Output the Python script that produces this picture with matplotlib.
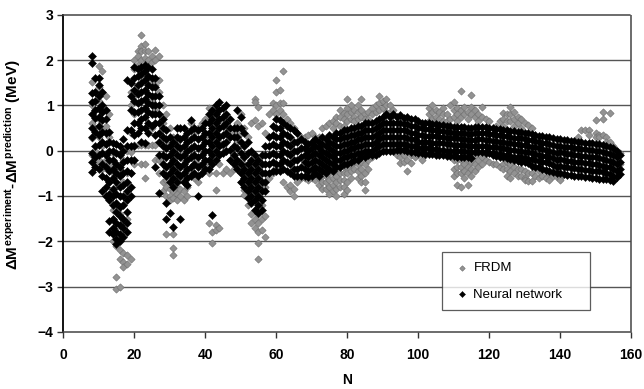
import matplotlib
matplotlib.use('Agg')
import matplotlib.pyplot as plt
import numpy as np

# residuals, grouped by neutron number N
frdm_by_n = {
    8: [1.52, 1.0, 0.6, 0.28, -0.1], 9: [1.3, 0.9, 0.5, 0.0, -0.3],
    10: [1.86, 1.4, 1.1, 0.7, 0.3, -0.2], 11: [1.75, 1.3, 0.85, 0.45, 0.1, -0.4],
    12: [1.2, 0.9, 0.55, 0.15, -0.2, -0.6], 13: [0.8, 0.3, -0.3, -0.7, -1.0],
    14: [-0.05, -0.5, -0.9, -1.3, -1.5, -2.0], 15: [-0.3, -0.8, -1.2, -1.7, -2.1, -2.78, -3.05],
    16: [-0.4, -1.0, -1.4, -1.9, -2.19, -2.4, -3.02], 17: [-0.2, -0.7, -1.2, -1.6, -2.25, -2.45, -2.56],
    18: [0.0, -0.5, -1.0, -1.5, -2.3, -2.5], 19: [1.52, 1.3, 1.0, 0.4, -0.02, -0.5, -2.4],
    20: [2.0, 1.8, 1.2, 0.8, 0.13, -0.3], 21: [2.2, 2.1, 1.9, 1.3, 0.13],
    22: [2.56, 2.3, 2.2, 2.0, 1.6, 0.13, -0.3], 23: [2.35, 2.2, 2.05, 1.7, 0.13, -0.3, -0.6],
    24: [2.2, 2.0, 1.6, 1.2, 0.13], 25: [2.1, 1.95, 1.5, 1.1, 0.5, 0.13],
    26: [2.23, 2.0, 1.45, 0.9, 0.13, -0.2], 27: [2.1, 1.57, 1.3, 0.8, -0.2, -0.5],
    28: [1.0, 0.6, -0.2, -0.7, -0.9], 29: [0.8, 0.2, -0.64, -0.8, -1.0, -1.85],
    30: [0.5, -0.7, -0.85, -1.0, -1.1], 31: [0.3, -0.75, -0.9, -1.05, -1.85, -2.14, -2.3],
    32: [0.2, -0.6, -0.8, -0.95, -1.1], 33: [0.0, -0.65, -0.85, -1.0],
    34: [-0.2, -0.7, -0.9, -1.08], 35: [0.2, -0.5, -0.8, -1.0],
    36: [0.6, 0.0, -0.5], 37: [0.4, -0.2, -0.6], 38: [0.5, -0.3, -0.7],
    39: [0.6, 0.0, -0.5], 40: [0.7, 0.3, -0.3], 41: [0.95, 0.68, 0.2, -0.5, -1.6],
    42: [0.8, 0.4, -0.2, -1.8, -2.03], 43: [0.9, 0.5, -0.5, -0.86, -1.65, -1.75],
    44: [0.7, 0.2, -0.3, -1.7], 45: [0.6, 0.1, -0.5], 46: [0.5, 0.0, -0.4],
    47: [0.3, -0.2, -0.5], 48: [0.4, -0.1, -0.4], 49: [0.6, 0.2, -0.3],
    50: [0.8, 0.4, -0.2, -0.5, -0.7], 51: [0.5, -0.3, -0.6, -0.86, -0.97],
    52: [0.3, -0.5, -0.8, -1.2], 53: [0.6, -0.7, -1.1, -1.4, -1.6],
    54: [1.13, 1.08, 0.68, -0.9, -1.3, -1.5, -1.7],
    55: [0.97, 0.55, -1.0, -1.4, -1.6, -1.8, -2.03, -2.4],
    56: [0.6, -1.2, -1.5, -1.75], 57: [0.4, -0.8, -1.45, -1.9], 58: [0.8, -0.6],
    59: [1.06, 0.9, -0.5], 60: [1.57, 1.3, 1.0, 0.8, -0.4], 61: [1.35, 1.06, 0.9, -0.3],
    62: [1.75, 1.06, 0.8, -0.7], 63: [0.7, -0.8], 64: [0.6, -0.75, -0.9],
    65: [0.5, -0.85, -1.0], 66: [0.4, -0.55, -0.7], 67: [0.3, -0.6], 68: [0.3, -0.6],
    69: [0.35, -0.65], 70: [0.4, -0.6], 71: [0.3, -0.5, -0.65], 72: [0.3, -0.45, -0.6, -0.75],
    73: [0.5, -0.4, -0.55, -0.7, -0.85], 74: [0.55, -0.4, -0.55, -0.7, -0.85],
    75: [0.6, -0.35, -0.5, -0.65, -0.8, -0.95], 76: [0.65, 0.5, -0.3, -0.45, -0.6, -0.75, -0.9],
    77: [0.75, 0.6, -0.4, -0.55, -0.7, -0.85, -1.0], 78: [0.9, 0.75, 0.55, -0.3, -0.5, -0.65, -0.8],
    79: [0.84, 0.7, 0.55, -0.35, -0.5, -0.65, -0.8, -0.95],
    80: [1.13, 0.95, 0.8, 0.65, -0.35, -0.5, -0.7, -0.86],
    81: [1.0, 0.85, 0.7, -0.3, -0.45, -0.6], 82: [0.9, 0.75, 0.65, -0.25, -0.4],
    83: [1.0, 0.85, 0.7, -0.3, -0.45, -0.6], 84: [1.13, 0.9, 0.75, -0.25, -0.4, -0.55, -0.7],
    85: [0.8, 0.7, -0.3, -0.5, -0.7, -0.86], 86: [0.85, 0.7, -0.2, -0.4],
    87: [0.95, 0.8, -0.15], 88: [1.0, 0.85], 89: [1.2, 1.05, 0.9], 90: [1.1, 0.95],
    91: [1.15, 1.0, 0.85], 92: [1.0, 0.85], 93: [0.9], 94: [0.2, 0.05, -0.1],
    95: [0.15, 0.0, -0.15, -0.27], 96: [0.2, 0.05, -0.1, -0.25], 97: [0.15, 0.0, -0.2, -0.46],
    98: [0.2, 0.05, -0.1, -0.27], 99: [0.15, 0.0, -0.15], 100: [0.2, 0.05, -0.1],
    101: [0.15, 0.0, -0.2], 102: [0.2, 0.05, -0.1], 103: [0.95, 0.8, 0.65, 0.1],
    104: [1.0, 0.85, 0.7, 0.55], 105: [0.9, 0.75, 0.6, 0.0], 106: [0.85, 0.7, 0.55],
    107: [0.95, 0.8, 0.65], 108: [0.8, 0.65], 109: [1.0, 0.7],
    110: [1.08, 0.9, 0.75, -0.2, -0.4, -0.57], 111: [0.95, 0.8, 0.65, -0.2, -0.35, -0.5, -0.75],
    112: [1.31, 0.9, 0.75, -0.2, -0.35, -0.5, -0.8], 113: [0.97, 0.8, -0.15, -0.3, -0.45, -0.6],
    114: [0.85, 0.7, -0.2, -0.35, -0.5, -0.75], 115: [1.22, 0.97, 0.8, -0.1, -0.25, -0.4, -0.57],
    116: [0.9, 0.75, -0.15, -0.3, -0.45], 117: [0.8, 0.65, -0.2, -0.35],
    118: [0.97, 0.75, -0.15, -0.3], 119: [0.7, -0.2], 120: [0.65, -0.25], 121: [-0.3],
    122: [0.55, -0.3], 123: [0.65, -0.35], 124: [0.84, 0.7, 0.55, -0.3, -0.4],
    125: [0.8, 0.65, -0.25, -0.4, -0.55], 126: [0.97, 0.8, 0.65, -0.3, -0.45, -0.6],
    127: [0.85, 0.7, 0.55, -0.35, -0.5], 128: [0.75, 0.6, -0.4, -0.55],
    129: [0.7, 0.5, -0.4, -0.55], 130: [0.6, -0.45, -0.6, -0.64], 131: [0.57, -0.5, -0.68],
    132: [0.5, -0.5, -0.68], 133: [-0.55], 134: [-0.45, -0.6], 135: [-0.4, -0.55],
    136: [-0.45, -0.6], 137: [-0.5, -0.64], 138: [-0.55], 139: [-0.58], 140: [-0.6, -0.64],
    145: [0.3], 146: [0.46], 147: [0.46], 148: [0.46, 0.35], 150: [0.68, 0.4, 0.3],
    151: [0.35, 0.3], 152: [0.86, 0.7, 0.35], 153: [0.3, 0.2], 154: [0.84, 0.2],
    155: [0.1], 156: [0.0, -0.05], 157: [-0.05, -0.3],
}

nn_by_n = {
    8: [2.08, 1.94, 1.27, 1.08, 0.8, 0.5, 0.3, -0.05, -0.26, -0.48],
    9: [1.6, 1.3, 1.1, 0.9, 0.72, 0.42, 0.1, -0.15, -0.35],
    10: [1.6, 1.45, 1.2, 0.95, 0.75, 0.55, 0.35, 0.12, -0.1, -0.4],
    11: [1.3, 1.0, 0.85, 0.68, 0.42, 0.2, -0.05, -0.3, -0.55, -0.9],
    12: [0.9, 0.7, 0.4, 0.15, -0.1, -0.35, -0.6, -0.8, -1.0],
    13: [0.42, 0.2, 0.0, -0.2, -0.45, -0.7, -0.95, -1.1, -1.55, -1.8],
    14: [0.18, 0.0, -0.2, -0.4, -0.6, -0.85, -1.0, -1.2, -1.5, -1.7, -1.85],
    15: [0.15, -0.05, -0.3, -0.5, -0.7, -0.95, -1.15, -1.35, -1.6, -1.8, -1.95, -2.05],
    16: [0.1, -0.1, -0.35, -0.55, -0.8, -1.0, -1.25, -1.45, -1.65, -1.85, -2.0],
    17: [0.25, 0.0, -0.25, -0.5, -0.75, -1.0, -1.2, -1.5, -1.7, -1.9],
    18: [1.55, 0.45, 0.1, -0.2, -0.45, -0.7, -0.9, -1.1, -1.35, -1.6, -1.8],
    19: [1.5, 1.2, 0.9, 0.45, 0.1, -0.2, -0.5, -0.8, -1.0],
    20: [1.85, 1.6, 1.35, 1.1, 0.85, 0.6, 0.35, 0.1, -0.2],
    21: [1.8, 1.65, 1.45, 1.25, 1.05, 0.85, 0.6, 0.4],
    22: [1.85, 1.7, 1.5, 1.3, 1.1, 0.9, 0.7, 0.5, 0.2],
    23: [1.9, 1.75, 1.55, 1.35, 1.15, 0.95, 0.75, 0.5, 0.17],
    24: [1.85, 1.65, 1.45, 1.25, 1.05, 0.85, 0.6, 0.4],
    25: [1.8, 1.6, 1.4, 1.2, 1.0, 0.8, 0.55],
    26: [1.6, 1.4, 1.2, 1.0, 0.8, 0.6, 0.35, -0.35],
    27: [1.2, 1.0, 0.8, 0.6, 0.4, 0.2, -0.1, -0.93],
    28: [0.7, 0.5, 0.3, 0.1, -0.1, -0.3, -0.5],
    29: [0.45, 0.25, 0.05, -0.15, -0.35, -0.55, -1.15, -1.52],
    30: [0.3, 0.1, -0.1, -0.3, -0.5, -0.7, -1.37],
    31: [0.2, 0.0, -0.2, -0.4, -0.6, -0.8, -1.68],
    32: [0.5, 0.3, 0.1, -0.1, -0.3, -0.5, -0.7],
    33: [0.5, 0.25, 0.05, -0.15, -0.35, -0.55, -1.52],
    34: [0.5, 0.3, 0.1, -0.1, -0.3, -0.5, -0.7],
    35: [0.4, 0.2, 0.0, -0.2, -0.4, -0.6, -0.75],
    36: [0.68, 0.45, 0.25, 0.05, -0.15, -0.35, -0.55],
    37: [0.5, 0.3, 0.1, -0.1, -0.3, -0.5],
    38: [0.45, 0.25, 0.05, -0.15, -0.35, -0.55, -1.0],
    39: [0.5, 0.3, 0.1, -0.1, -0.3, -0.5],
    40: [0.6, 0.4, 0.2, 0.0, -0.2, -0.4],
    41: [0.8, 0.6, 0.4, 0.2, 0.0, -0.2, -0.4],
    42: [0.9, 0.7, 0.5, 0.3, 0.1, -0.1, -0.3, -1.41],
    43: [1.0, 0.8, 0.6, 0.4, 0.2, 0.0, -0.2],
    44: [1.08, 0.9, 0.7, 0.5, 0.3, 0.1, -0.1],
    45: [0.95, 0.75, 0.55, 0.35, 0.15, -0.05],
    46: [1.0, 0.8, 0.6, 0.4, 0.2, 0.0],
    47: [0.7, 0.5, 0.3, 0.02, -0.2],
    48: [0.5, 0.3, 0.1, -0.1, -0.3],
    49: [0.9, 0.5, 0.3, 0.05, -0.2, -0.4],
    50: [0.75, 0.5, 0.2, -0.05, -0.3, -0.5, -0.7],
    51: [0.4, 0.1, -0.15, -0.4, -0.6, -0.8],
    52: [0.2, -0.05, -0.3, -0.5, -0.7, -0.9, -1.05],
    53: [0.0, -0.2, -0.4, -0.6, -0.8, -1.0, -1.15],
    54: [-0.1, -0.3, -0.5, -0.7, -0.9, -1.1, -1.3],
    55: [-0.2, -0.4, -0.6, -0.8, -1.0, -1.2, -1.37],
    56: [-0.1, -0.3, -0.5, -0.7, -0.9, -1.1, -1.3],
    57: [0.1, -0.1, -0.3, -0.5, -0.7, -0.9],
    58: [0.3, 0.1, -0.1, -0.3, -0.5],
    59: [0.55, 0.35, 0.15, -0.05, -0.25, -0.45],
    60: [0.7, 0.5, 0.3, 0.1, -0.1, -0.3, -0.45],
    61: [0.68, 0.5, 0.3, 0.1, -0.1, -0.3, -0.45],
    62: [0.6, 0.4, 0.2, 0.0, -0.2, -0.4],
    63: [0.55, 0.35, 0.15, -0.05, -0.25, -0.45],
    64: [0.5, 0.3, 0.1, -0.1, -0.3, -0.5],
    65: [0.45, 0.2, 0.0, -0.2, -0.4, -0.55],
    66: [0.4, 0.2, 0.0, -0.2, -0.4, -0.55],
    67: [0.25, 0.05, -0.15, -0.35, -0.55],
    68: [0.2, 0.05, -0.1, -0.25, -0.4, -0.55],
    69: [0.15, 0.0, -0.15, -0.3, -0.45, -0.58],
    70: [0.2, 0.05, -0.1, -0.25, -0.4, -0.55],
    71: [0.25, 0.1, -0.05, -0.2, -0.35, -0.5],
    72: [0.2, 0.05, -0.1, -0.25, -0.4, -0.55],
    73: [0.3, 0.15, 0.0, -0.15, -0.3, -0.45],
    74: [0.25, 0.1, -0.05, -0.2, -0.35, -0.5],
    75: [0.35, 0.2, 0.05, -0.1, -0.25, -0.4],
    76: [0.3, 0.15, 0.0, -0.15, -0.3, -0.45],
    77: [0.4, 0.25, 0.1, -0.05, -0.2, -0.35],
    78: [0.4, 0.25, 0.1, -0.05, -0.2, -0.35],
    79: [0.45, 0.3, 0.15, 0.0, -0.15, -0.3],
    80: [0.45, 0.3, 0.15, 0.0, -0.15, -0.3],
    81: [0.5, 0.35, 0.2, 0.05, -0.1, -0.25],
    82: [0.5, 0.35, 0.2, 0.05, -0.1, -0.2],
    83: [0.55, 0.4, 0.25, 0.1, -0.05, -0.2],
    84: [0.55, 0.4, 0.25, 0.1, -0.05, -0.15],
    85: [0.6, 0.45, 0.3, 0.15, 0.0, -0.15],
    86: [0.6, 0.45, 0.3, 0.15, 0.0, -0.1],
    87: [0.6, 0.45, 0.3, 0.15, 0.0, -0.1],
    88: [0.65, 0.5, 0.35, 0.2, 0.05, -0.1],
    89: [0.7, 0.55, 0.4, 0.25, 0.1, -0.05],
    90: [0.75, 0.6, 0.45, 0.3, 0.15, 0.0],
    91: [0.8, 0.6, 0.45, 0.3, 0.15, 0.0],
    92: [0.75, 0.6, 0.45, 0.3, 0.15, 0.0],
    93: [0.8, 0.6, 0.45, 0.3, 0.15, 0.0],
    94: [0.75, 0.6, 0.45, 0.3, 0.15, 0.02],
    95: [0.78, 0.6, 0.45, 0.3, 0.15, 0.02],
    96: [0.72, 0.58, 0.45, 0.3, 0.15, 0.02],
    97: [0.75, 0.58, 0.43, 0.28, 0.13, 0.0],
    98: [0.7, 0.55, 0.4, 0.25, 0.1, -0.02],
    99: [0.7, 0.55, 0.4, 0.25, 0.1, -0.03],
    100: [0.65, 0.5, 0.35, 0.2, 0.05, -0.05],
    101: [0.62, 0.5, 0.35, 0.2, 0.05, -0.05],
    102: [0.6, 0.47, 0.33, 0.2, 0.05, -0.07],
    103: [0.6, 0.47, 0.33, 0.2, 0.05, -0.08],
    104: [0.58, 0.45, 0.32, 0.18, 0.04, -0.08],
    105: [0.58, 0.45, 0.32, 0.18, 0.04, -0.1],
    106: [0.56, 0.43, 0.3, 0.16, 0.02, -0.1],
    107: [0.56, 0.43, 0.3, 0.16, 0.02, -0.1],
    108: [0.55, 0.42, 0.28, 0.15, 0.0, -0.12],
    109: [0.55, 0.42, 0.28, 0.15, 0.0, -0.12],
    110: [0.53, 0.4, 0.27, 0.13, 0.0, -0.12],
    111: [0.53, 0.4, 0.27, 0.13, 0.0, -0.13],
    112: [0.52, 0.39, 0.26, 0.12, -0.01, -0.14],
    113: [0.52, 0.39, 0.26, 0.12, -0.01, -0.14],
    114: [0.5, 0.37, 0.24, 0.1, -0.03, -0.15],
    115: [0.5, 0.37, 0.24, 0.1, -0.03, -0.16],
    116: [0.52, 0.38, 0.24, 0.1, -0.03],
    117: [0.53, 0.39, 0.25, 0.11, -0.03],
    118: [0.53, 0.39, 0.25, 0.11, -0.03],
    119: [0.52, 0.38, 0.24, 0.1, -0.04, -0.06],
    120: [0.5, 0.37, 0.23, 0.09, -0.05],
    121: [0.49, 0.36, 0.22, 0.08, -0.06, -0.1],
    122: [0.48, 0.35, 0.21, 0.07, -0.07, -0.12],
    123: [0.47, 0.34, 0.2, 0.06, -0.08, -0.14],
    124: [0.46, 0.33, 0.19, 0.05, -0.09, -0.15],
    125: [0.45, 0.32, 0.18, 0.04, -0.1, -0.16],
    126: [0.44, 0.3, 0.16, 0.02, -0.12, -0.18],
    127: [0.43, 0.29, 0.15, 0.01, -0.13, -0.2],
    128: [0.42, 0.28, 0.14, 0.0, -0.14, -0.22],
    129: [0.41, 0.27, 0.13, -0.01, -0.15, -0.24],
    130: [0.4, 0.26, 0.12, -0.02, -0.16, -0.26],
    131: [0.38, 0.24, 0.1, -0.04, -0.18, -0.28],
    132: [0.37, 0.23, 0.09, -0.05, -0.19, -0.33],
    133: [0.35, 0.21, 0.07, -0.07, -0.21, -0.35],
    134: [0.33, 0.19, 0.05, -0.09, -0.23, -0.37],
    135: [0.32, 0.17, 0.03, -0.11, -0.25, -0.4],
    136: [0.3, 0.16, 0.02, -0.12, -0.26, -0.42],
    137: [0.3, 0.15, 0.0, -0.14, -0.28, -0.44],
    138: [0.28, 0.13, -0.02, -0.17, -0.32, -0.47],
    139: [0.25, 0.1, -0.05, -0.2, -0.35, -0.5],
    140: [0.26, 0.11, -0.04, -0.19, -0.34, -0.5],
    141: [0.24, 0.09, -0.06, -0.21, -0.36, -0.52],
    142: [0.24, 0.08, -0.07, -0.22, -0.37, -0.53],
    143: [0.22, 0.07, -0.08, -0.23, -0.38, -0.54],
    144: [0.22, 0.06, -0.09, -0.24, -0.39, -0.55],
    145: [0.2, 0.05, -0.1, -0.25, -0.4, -0.56],
    146: [0.2, 0.04, -0.11, -0.26, -0.41, -0.57],
    147: [0.18, 0.03, -0.12, -0.27, -0.42, -0.58],
    148: [0.18, 0.02, -0.13, -0.28, -0.43, -0.59],
    149: [0.16, 0.01, -0.14, -0.29, -0.44, -0.6],
    150: [0.15, 0.0, -0.15, -0.3, -0.45, -0.6],
    151: [0.14, -0.01, -0.16, -0.31, -0.46, -0.62],
    152: [0.12, -0.03, -0.18, -0.33, -0.48, -0.62],
    153: [0.1, -0.05, -0.2, -0.35, -0.5, -0.63],
    154: [0.08, -0.07, -0.22, -0.37, -0.52, -0.65],
    155: [0.05, -0.1, -0.25, -0.4, -0.55, -0.68],
    156: [0.0, -0.15, -0.3, -0.45, -0.58],
    157: [-0.1, -0.25, -0.4, -0.52],
}

x_ticks = [0, 20, 40, 60, 80, 100, 120, 140, 160]
y_ticks = [-4, -3, -2, -1, 0, 1, 2, 3]


def flatten(by_n):
    xs, ys = [], []
    for n, vals in by_n.items():
        xs.extend([n] * len(vals))
        ys.extend(vals)
    return np.array(xs), np.array(ys)


plt.rcParams['font.family'] = ['Liberation Sans', 'DejaVu Sans']
plt.rcParams['mathtext.fontset'] = 'custom'
plt.rcParams['mathtext.rm'] = 'Liberation Sans:bold'
plt.rcParams['mathtext.it'] = 'Liberation Sans:bold'
plt.rcParams['mathtext.bf'] = 'Liberation Sans:bold'

fig = plt.figure(figsize=(6.44, 3.89), dpi=100)
ax = fig.add_axes([0.098, 0.147, 0.882, 0.815])

fx, fy = flatten(frdm_by_n)
nx, ny = flatten(nn_by_n)
ax.scatter(fx, fy, marker='D', s=14, facecolor='#929292', edgecolor='#6e6e6e',
           linewidth=0.4, label='FRDM', zorder=3)
ax.scatter(nx, ny, marker='D', s=17, facecolor='#000000', edgecolor='#000000',
           linewidth=0.3, label='Neural network', zorder=4)

ax.set_xlim(0, 160)
ax.set_ylim(-4, 3)
ax.set_xticks(x_ticks)
ax.set_yticks(y_ticks)
for v in y_ticks[1:-1]:
    ax.axhline(v, color='#555555', linewidth=1.0, zorder=1)

for side in ['top', 'right', 'bottom']:
    ax.spines[side].set_color('#444444')
    ax.spines[side].set_linestyle((0, (1, 1)))
    ax.spines[side].set_linewidth(1.1)
ax.spines['left'].set_color('black')
ax.spines['left'].set_linewidth(1.3)

ax.tick_params(axis='both', direction='out', length=4, width=1, color='#333333',
               labelsize=10, pad=3)
for lab in ax.get_xticklabels() + ax.get_yticklabels():
    lab.set_fontweight('bold')
ax.tick_params(axis='x', pad=8)

leg = ax.legend(loc='upper left', bbox_to_anchor=(0.655, 0.076, 0.285, 0.195),
                mode='expand', frameon=True, fancybox=False, fontsize=9.5,
                handletextpad=0.1, labelspacing=1.1, borderpad=0.7,
                markerscale=0.75, handlelength=1.6)
leg.get_frame().set_edgecolor('#333333')
leg.get_frame().set_linewidth(0.9)
leg.set_zorder(6)

fig.text(0.019, 0.576,
         r'$\Delta M^{experiment}$-$\Delta M^{prediction}$ (MeV)',
         rotation=90, ha='center', va='center', fontsize=11, fontweight='bold')
fig.text(0.539, 0.022, 'N', ha='center', va='center', fontsize=10, fontweight='bold')

fig.savefig('out.png', dpi=100, facecolor='white')
